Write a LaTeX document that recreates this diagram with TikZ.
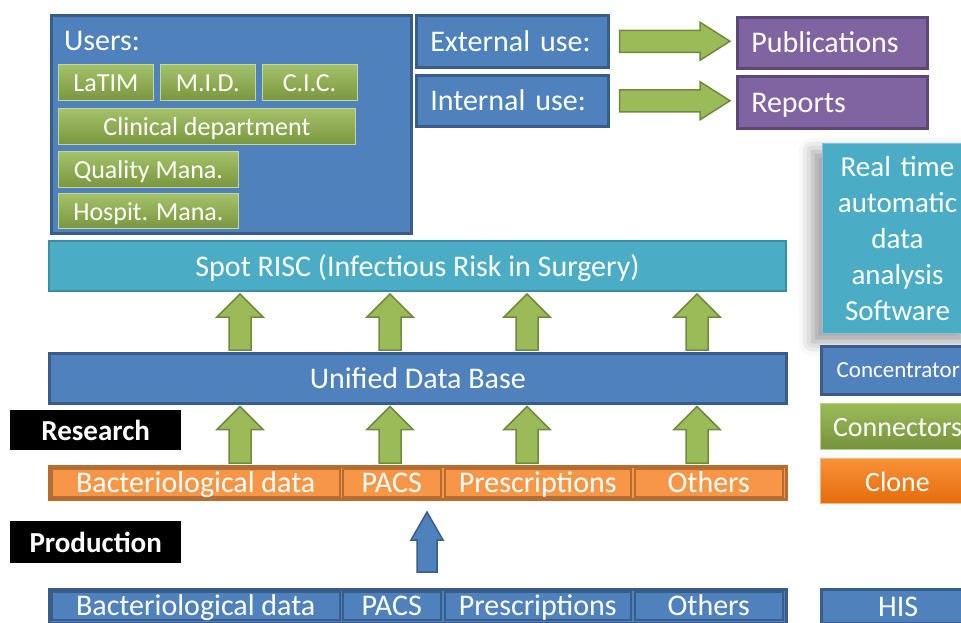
\documentclass[tikz,border=0pt]{standalone}
\usepackage{fontspec}
\setmainfont{Carlito}
\usetikzlibrary{positioning,calc,shadows.blur}
\definecolor{conBlue}{HTML}{4F81BD}
\definecolor{conBlueEdge}{HTML}{385D8A}
\definecolor{linkGreen}{HTML}{9BBB59}
\definecolor{linkGreenDark}{HTML}{76923C}
\definecolor{linkGreenEdge}{HTML}{71893F}
\definecolor{cloneOrange}{HTML}{F79646}
\definecolor{cloneOrangeDark}{HTML}{E46C0A}
\definecolor{cloneOrangeEdge}{HTML}{B66D31}
\definecolor{spotTeal}{HTML}{4BACC6}
\definecolor{spotTealEdge}{HTML}{3A8DA6}
\definecolor{pubPurple}{HTML}{8064A2}
\definecolor{pubPurpleEdge}{HTML}{5C4776}

% block arrows: style, from, to, half shaft, half head, head length
\newcommand{\blockup}[6]{%
  \draw[#1] let \p1=(#2), \p2=(#3) in
    (\x1-#4,\y1) -- (\x1+#4,\y1) -- (\x1+#4,\y2-#6) -- (\x1+#5,\y2-#6)
    -- (\x1,\y2) -- (\x1-#5,\y2-#6) -- (\x1-#4,\y2-#6) -- cycle;}
\newcommand{\blockright}[6]{%
  \draw[#1] let \p1=(#2), \p2=(#3) in
    (\x1,\y1+#4) -- (\x2-#6,\y1+#4) -- (\x2-#6,\y1+#5) -- (\x2,\y1)
    -- (\x2-#6,\y1-#5) -- (\x2-#6,\y1-#4) -- (\x1,\y1-#4) -- cycle;}

\begin{document}
\begin{tikzpicture}[x=1pt, y=-1pt,
    every node/.style={text=white, inner sep=0pt, anchor=north west,
      font=\fontsize{30}{36}\selectfont},
    evenline/.style={text height=24pt, text depth=4pt},
    bluebox/.style={draw=conBlueEdge, line width=2.5pt, fill=conBlue, evenline},
    userbox/.style={draw=linkGreen!60!white, line width=0.8pt, top color=linkGreen!90!white,
      bottom color=linkGreenDark!90!linkGreen, font=\fontsize{26}{30}\selectfont,
      text height=23pt, text depth=4pt},
    purplebox/.style={draw=pubPurpleEdge, line width=2.5pt, fill=pubPurple, evenline},
    tealbar/.style={draw=spotTealEdge, line width=2pt, fill=spotTeal, evenline},
    tagbox/.style={fill=black, font=\fontsize{29}{34}\selectfont\bfseries, evenline},
    orangecell/.style={draw=cloneOrangeEdge, line width=1.5pt, fill=cloneOrange,
      minimum height=27, evenline},
    bluecell/.style={draw=conBlueEdge, line width=1.5pt, fill=conBlue, minimum height=28, evenline},
    garrow/.style={fill=linkGreen, draw=linkGreenEdge, line width=1.5pt, line join=miter},
    barrow/.style={fill=conBlue, draw=conBlueEdge, line width=1.5pt, line join=miter}]
  \useasboundingbox (0,0) rectangle (961,622);
  \clip (0,0) rectangle (961,622);

  % users
  \node[bluebox, minimum width=360, minimum height=218] (users) at (50,14) {};
  \node[anchor=west] (userstitle) at (64,41) {Users:};
  \node[userbox, minimum width=95, minimum height=36] (latim) at (58,64) {LaTIM};
  \node[userbox, minimum width=95, minimum height=36, right=6pt of latim] (mid) {M.I.D.};
  \node[userbox, minimum width=95, minimum height=36, right=6pt of mid] (cic) {C.I.C.};
  \node[userbox, minimum width=297, minimum height=36] (clin) at (58,108) {Clinical department};
  \node[userbox, minimum width=180, minimum height=36] (quality) at (58,151) {Quality Mana.};
  \node[userbox, minimum width=180, minimum height=35] (hospit) at (58,193) {Hospit. Mana.};

  % use and output
  \node[bluebox, text width=164, align=left, inner xsep=14pt, minimum height=52] (ext) at (415,14) {External use:};
  \node[bluebox, text width=164, align=left, inner xsep=14pt, minimum height=51] (int) at (415,74) {Internal use:};
  \node[purplebox, text width=162, align=left, inner xsep=14pt, minimum height=51] (pub) at (736,16) {Publications};
  \node[purplebox, text width=162, align=left, inner xsep=14pt, minimum height=52] (rep) at (736,75) {Reports};
  \blockright{garrow}{$(ext.east)+(10,0)$}{$(pub.west)+(-6,0)$}{11pt}{19pt}{30pt}
  \blockright{garrow}{$(int.east)+(10,0)$}{$(rep.west)+(-6,0)$}{11pt}{19pt}{30pt}

  % main stack
  \node[tealbar, minimum width=737, minimum height=50] (spot) at (48,240) {Spot RISC (Infectious Risk in Surgery)};
  \node[bluebox, minimum width=737, minimum height=50] (udb) at (48,352) {Unified Data Base};
  \node[draw=cloneOrangeEdge, line width=2.5pt, fill=cloneOrange, minimum width=737, minimum height=33] (clonebar) at (48,465) {};
  \node[orangecell, minimum width=288] (obact) at (51,468) {Bacteriological data};
  \node[orangecell, minimum width=98] (opacs) at (342,468) {PACS};
  \node[orangecell, minimum width=186] (opres) at (444,468) {Prescriptions};
  \node[orangecell, minimum width=148] (oothers) at (634,468) {Others};
  \node[bluebox, minimum width=737, minimum height=34] (hisbar) at (48,588) {};
  \node[bluecell, minimum width=288] (hbact) at (51,591) {Bacteriological data};
  \node[bluecell, minimum width=98] (hpacs) at (342,591) {PACS};
  \node[bluecell, minimum width=186] (hpres) at (444,591) {Prescriptions};
  \node[bluecell, minimum width=148] (hothers) at (634,591) {Others};

  \node[tagbox, minimum width=171, minimum height=40] (research) at (10,410) {Research};
  \node[tagbox, minimum width=171, minimum height=42] (production) at (10,521) {Production};

  \foreach \cx [count=\i] in {240,390,527,697} {
    \coordinate (col\i) at (\cx,0);
    \blockup{garrow}{$(col\i |- udb.north)+(0,-2)$}{$(col\i |- spot.south)+(0,2)$}{11pt}{23pt}{23pt}
    \blockup{garrow}{$(col\i |- clonebar.north)+(0,-2)$}{$(col\i |- udb.south)+(0,2)$}{11pt}{23pt}{23pt}
  }
  \coordinate (blueFoot) at (427,572);
  \coordinate (blueTip) at (427,512);
  \blockup{barrow}{blueFoot}{blueTip}{10pt}{16pt}{28pt}

  % legend column
  \node[fill=spotTeal, draw=spotTeal!70!white, line width=1pt, text width=150, align=center,
    minimum height=190, font=\fontsize{29}{36}\selectfont,
    blur shadow={shadow xshift=-10pt, shadow yshift=-8pt, shadow blur radius=14pt, shadow opacity=40}] (realtime) at (822,143)
    {Real time\\automatic\\data\\analysis\\Software};
  \node[bluebox, minimum width=154, minimum height=48, font=\fontsize{23}{26}\selectfont,
    text height=18pt, text depth=4pt] (conc) at (820,345) {Concentrator};
  \node[draw=linkGreen!70!white, line width=1pt, top color=linkGreen, bottom color=linkGreenDark,
    minimum width=154, minimum height=46, font=\fontsize{28}{34}\selectfont,
    text height=23pt, text depth=3pt] (conn) at (820,403) {Connectors};
  \node[draw=cloneOrange!70!white, line width=1pt, top color=cloneOrange!80!orange, bottom color=cloneOrangeDark,
    minimum width=154, minimum height=45, font=\fontsize{28}{34}\selectfont,
    text height=23pt, text depth=3pt] (clone) at (820,458) {Clone};
  \node[bluebox, minimum width=154, minimum height=34] (his) at (820,588) {HIS};
\end{tikzpicture}
\end{document}
